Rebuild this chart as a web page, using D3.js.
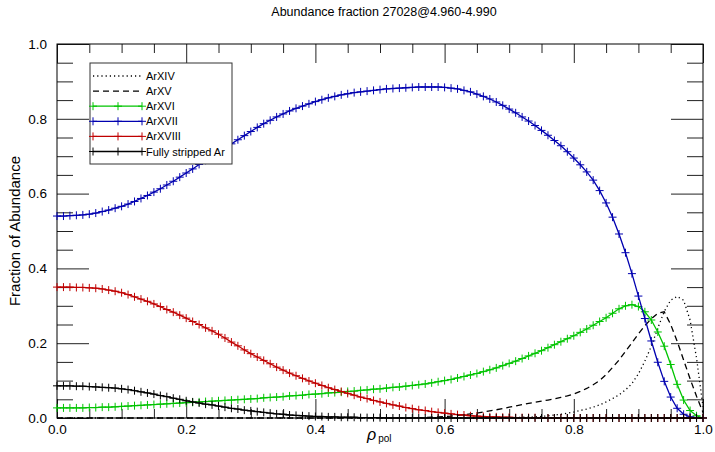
<!DOCTYPE html>
<html>
<head>
<meta charset="utf-8">
<script src="https://cdn.jsdelivr.net/npm/d3@7"></script>
<style>
  body { margin: 0; background: #fff; }
  svg { display: block; font-family: "Liberation Sans", Arial, Helvetica, sans-serif; }
</style>
</head>
<body>
<svg id="chart" width="715" height="452"></svg>
<script>
// rho_pol grid
const rho = [
  0.00, 0.01, 0.02, 0.03, 0.04, 0.05, 0.06, 0.07, 0.08, 0.09,
  0.10, 0.11, 0.12, 0.13, 0.14, 0.15, 0.16, 0.17, 0.18, 0.19,
  0.20, 0.21, 0.22, 0.23, 0.24, 0.25, 0.26, 0.27, 0.28, 0.29,
  0.30, 0.31, 0.32, 0.33, 0.34, 0.35, 0.36, 0.37, 0.38, 0.39,
  0.40, 0.41, 0.42, 0.43, 0.44, 0.45, 0.46, 0.47, 0.48, 0.49,
  0.50, 0.51, 0.52, 0.53, 0.54, 0.55, 0.56, 0.57, 0.58, 0.59,
  0.60, 0.61, 0.62, 0.63, 0.64, 0.65, 0.66, 0.67, 0.68, 0.69,
  0.70, 0.71, 0.72, 0.73, 0.74, 0.75, 0.76, 0.77, 0.78, 0.79,
  0.80, 0.81, 0.82, 0.83, 0.84, 0.85, 0.86, 0.87, 0.88, 0.89,
  0.90, 0.91, 0.92, 0.93, 0.94, 0.95, 0.96, 0.97, 0.98, 0.99,
  1.00,
];

const arXIV = [
  0, 0, 0, 0, 0, 0, 0, 0, 0, 0,
  0, 0, 0, 0, 0, 0, 0, 0, 0, 0,
  0, 0, 0, 0, 0, 0, 0, 0, 0, 0,
  0, 0, 0, 0, 0, 0, 0, 0, 0, 0,
  0, 0, 0, 0, 0, 0, 0, 0, 0, 0,
  0, 0, 0, 0, 0, 0, 0, 0, 0, 0,
  0, 0, 0, 0, 0, 0, 0, 0, 0, 0,
  0.001, 0.001, 0.002, 0.002, 0.003, 0.004, 0.006, 0.008, 0.010, 0.013,
  0.016, 0.020, 0.024, 0.029, 0.035, 0.043, 0.052, 0.062, 0.075, 0.092,
  0.118, 0.152, 0.192, 0.240, 0.285, 0.315, 0.325, 0.315, 0.262, 0.160,
  0.030,
];

const arXV = [
  0, 0, 0, 0, 0, 0, 0, 0, 0, 0,
  0, 0, 0, 0, 0, 0, 0, 0, 0, 0,
  0, 0, 0, 0, 0, 0, 0, 0, 0, 0,
  0, 0, 0, 0, 0, 0, 0, 0, 0, 0,
  0, 0, 0, 0, 0, 0, 0, 0, 0, 0,
  0, 0, 0, 0, 0, 0, 0.001, 0.001, 0.002, 0.003,
  0.004, 0.005, 0.007, 0.009, 0.011, 0.013, 0.016, 0.019, 0.022, 0.025,
  0.029, 0.032, 0.036, 0.039, 0.042, 0.045, 0.048, 0.051, 0.055, 0.059,
  0.064, 0.071, 0.079, 0.089, 0.100, 0.116, 0.135, 0.155, 0.178, 0.201,
  0.225, 0.247, 0.265, 0.280, 0.284, 0.250, 0.205, 0.155, 0.105, 0.058,
  0.015,
];

const arXVI = [
  0.027, 0.027, 0.027, 0.027, 0.027, 0.028, 0.028, 0.029, 0.029, 0.030,
  0.031, 0.032, 0.033, 0.034, 0.035, 0.036, 0.037, 0.038, 0.039, 0.040,
  0.041, 0.042, 0.043, 0.044, 0.045, 0.046, 0.047, 0.048, 0.049, 0.050,
  0.051, 0.052, 0.054, 0.055, 0.056, 0.057, 0.059, 0.060, 0.061, 0.063,
  0.064, 0.065, 0.067, 0.068, 0.069, 0.071, 0.072, 0.074, 0.075, 0.077,
  0.078, 0.080, 0.082, 0.083, 0.085, 0.087, 0.089, 0.091, 0.094, 0.097,
  0.100, 0.103, 0.107, 0.111, 0.115, 0.119, 0.124, 0.129, 0.134, 0.140,
  0.146, 0.152, 0.159, 0.166, 0.173, 0.180, 0.188, 0.196, 0.204, 0.212,
  0.220, 0.229, 0.238, 0.248, 0.258, 0.268, 0.280, 0.292, 0.300, 0.303,
  0.298, 0.284, 0.262, 0.230, 0.192, 0.143, 0.090, 0.048, 0.020, 0.006,
  0.000,
];

const arXVII = [
  0.540, 0.540, 0.541, 0.542, 0.543, 0.545, 0.548, 0.552, 0.556, 0.561,
  0.566, 0.572, 0.579, 0.587, 0.595, 0.604, 0.613, 0.623, 0.633, 0.644,
  0.655, 0.666, 0.678, 0.689, 0.700, 0.711, 0.722, 0.733, 0.744, 0.755,
  0.766, 0.777, 0.787, 0.796, 0.805, 0.813, 0.821, 0.828, 0.834, 0.840,
  0.846, 0.851, 0.856, 0.860, 0.864, 0.867, 0.870, 0.872, 0.874, 0.876,
  0.878, 0.880, 0.881, 0.882, 0.883, 0.884, 0.885, 0.885, 0.885, 0.885,
  0.884, 0.882, 0.880, 0.876, 0.872, 0.866, 0.860, 0.853, 0.845, 0.836,
  0.826, 0.816, 0.805, 0.794, 0.782, 0.769, 0.756, 0.742, 0.728, 0.712,
  0.695, 0.677, 0.658, 0.636, 0.608, 0.575, 0.537, 0.492, 0.442, 0.386,
  0.326, 0.266, 0.206, 0.149, 0.098, 0.056, 0.026, 0.010, 0.003, 0.001,
  0.000,
];

const arXVIII = [
  0.350, 0.350, 0.350, 0.349, 0.349, 0.348, 0.347, 0.345, 0.342, 0.339,
  0.335, 0.330, 0.324, 0.318, 0.312, 0.305, 0.298, 0.290, 0.283, 0.275,
  0.267, 0.258, 0.250, 0.241, 0.233, 0.224, 0.214, 0.203, 0.193, 0.182,
  0.172, 0.163, 0.154, 0.145, 0.136, 0.128, 0.120, 0.113, 0.106, 0.099,
  0.093, 0.087, 0.081, 0.076, 0.071, 0.066, 0.061, 0.056, 0.052, 0.047,
  0.043, 0.039, 0.035, 0.032, 0.028, 0.025, 0.022, 0.020, 0.017, 0.015,
  0.013, 0.011, 0.009, 0.008, 0.006, 0.005, 0.004, 0.003, 0.003, 0.002,
  0.002, 0.001, 0.001, 0.001, 0.001, 0, 0, 0, 0, 0,
  0, 0, 0, 0, 0, 0, 0, 0, 0, 0,
  0, 0, 0, 0, 0, 0, 0, 0, 0, 0,
  0,
];

const fullyStripped = [
  0.086, 0.086, 0.086, 0.085, 0.085, 0.084, 0.083, 0.082, 0.081, 0.080,
  0.078, 0.076, 0.073, 0.070, 0.067, 0.064, 0.060, 0.057, 0.053, 0.050,
  0.046, 0.043, 0.040, 0.037, 0.035, 0.032, 0.029, 0.026, 0.024, 0.021,
  0.019, 0.017, 0.015, 0.013, 0.011, 0.010, 0.008, 0.007, 0.006, 0.005,
  0.004, 0.004, 0.003, 0.003, 0.002, 0.002, 0.002, 0.001, 0.001, 0.001,
  0.001, 0, 0, 0, 0, 0, 0, 0, 0, 0,
  0, 0, 0, 0, 0, 0, 0, 0, 0, 0,
  0, 0, 0, 0, 0, 0, 0, 0, 0, 0,
  0, 0, 0, 0, 0, 0, 0, 0, 0, 0,
  0, 0, 0, 0, 0, 0, 0, 0, 0, 0,
  0,
];

// axis ticks
const xMajorTicks = [0, 0.2, 0.4, 0.6, 0.8, 1.0];
const yMajorTicks = [0, 0.2, 0.4, 0.6, 0.8, 1.0];
const minorTicks = [
  0.05, 0.1, 0.15, 0.25, 0.3, 0.35, 0.45, 0.5, 0.55,
  0.65, 0.7, 0.75, 0.85, 0.9, 0.95,
];

const series = [
  { name: "ArXIV", values: arXIV, color: "#000", dash: "1.2,3", marker: false },
  { name: "ArXV", values: arXV, color: "#000", dash: "6,4", marker: false },
  { name: "ArXVI", values: arXVI, color: "#00c400", dash: null, marker: true },
  { name: "ArXVII", values: arXVII, color: "#0000b0", dash: null, marker: true },
  { name: "ArXVIII", values: arXVIII, color: "#c00000", dash: null, marker: true },
  { name: "Fully stripped Ar", values: fullyStripped, color: "#000", dash: null, marker: true },
];

const svg = d3.select("#chart");

// plot frame
const plotLeft = 57, plotRight = 703, plotTop = 44, plotBottom = 418;

const x = d3.scaleLinear().domain([0, 1]).range([plotLeft, plotRight]);
const y = d3.scaleLinear().domain([0, 1]).range([plotBottom, plotTop]);

// title
svg.append("text")
  .attr("x", 384)
  .attr("y", 16)
  .attr("text-anchor", "middle")
  .attr("font-size", 12.5)
  .text("Abundance fraction 27028@4.960-4.990");

// axes (ticks point inwards like IDL)
const fmt = d3.format(".1f");
const tickColor = "#222";

const styleAxis = (g) => {
  g.select(".domain").remove();
  g.selectAll(".tick line").attr("stroke", tickColor);
  g.selectAll(".tick text").attr("fill", "#000");
};

svg.append("g")
  .attr("transform", `translate(0,${plotBottom})`)
  .call(d3.axisBottom(x).tickValues(xMajorTicks).tickSize(-19).tickPadding(6).tickFormat(fmt))
  .attr("font-size", 13.5)
  .attr("font-family", null)
  .call(styleAxis);
svg.append("g")
  .attr("transform", `translate(0,${plotBottom})`)
  .call(d3.axisBottom(x).tickValues(minorTicks).tickSize(-9).tickFormat(""))
  .call(styleAxis);
svg.append("g")
  .attr("transform", `translate(0,${plotTop})`)
  .call(d3.axisTop(x).tickValues(xMajorTicks).tickSize(-19).tickFormat(""))
  .call(styleAxis);
svg.append("g")
  .attr("transform", `translate(0,${plotTop})`)
  .call(d3.axisTop(x).tickValues(minorTicks).tickSize(-9).tickFormat(""))
  .call(styleAxis);

svg.append("g")
  .attr("transform", `translate(${plotLeft},0)`)
  .call(d3.axisLeft(y).tickValues(yMajorTicks).tickSize(-32).tickPadding(10).tickFormat(fmt))
  .attr("font-size", 13.5)
  .attr("font-family", null)
  .call(styleAxis);
svg.append("g")
  .attr("transform", `translate(${plotLeft},0)`)
  .call(d3.axisLeft(y).tickValues(minorTicks).tickSize(-16).tickFormat(""))
  .call(styleAxis);
svg.append("g")
  .attr("transform", `translate(${plotRight},0)`)
  .call(d3.axisRight(y).tickValues(yMajorTicks).tickSize(-32).tickFormat(""))
  .call(styleAxis);
svg.append("g")
  .attr("transform", `translate(${plotRight},0)`)
  .call(d3.axisRight(y).tickValues(minorTicks).tickSize(-16).tickFormat(""))
  .call(styleAxis);

svg.append("rect")
  .attr("x", plotLeft)
  .attr("y", plotTop)
  .attr("width", plotRight - plotLeft)
  .attr("height", plotBottom - plotTop)
  .attr("fill", "none")
  .attr("stroke", "#000");

// axis titles
svg.append("text")
  .attr("transform", `translate(20,${(plotTop + plotBottom) / 2}) rotate(-90)`)
  .attr("text-anchor", "middle")
  .attr("font-size", 15)
  .text("Fraction of Abundance");

const xTitle = svg.append("text")
  .attr("x", 367)
  .attr("y", 440);
xTitle.append("tspan")
  .attr("font-size", 16)
  .attr("font-style", "italic")
  .text("ρ");
xTitle.append("tspan")
  .attr("font-size", 10)
  .attr("dx", 2)
  .attr("dy", 2)
  .text("pol");

// curves
const line = d3.line()
  .x((d) => x(d[0]))
  .y((d) => y(d[1]));

const plusPath = (px, py, s) =>
  `M${px - s},${py}h${2 * s}M${px},${py - s}v${2 * s}`;

series.forEach((s) => {
  const pts = rho.map((r, i) => [r, s.values[i]]);
  svg.append("path")
    .datum(pts)
    .attr("fill", "none")
    .attr("stroke", s.color)
    .attr("stroke-width", 1.3)
    .attr("stroke-dasharray", s.dash)
    .attr("d", line);
  if (s.marker) {
    svg.append("path")
      .attr("fill", "none")
      .attr("stroke", s.color)
      .attr("stroke-width", 1)
      .attr("d", pts.map((d) => plusPath(x(d[0]), y(d[1]), 4)).join(""));
  }
});

// legend
const legend = svg.append("g").attr("transform", "translate(90,63)");
legend.append("rect")
  .attr("width", 142)
  .attr("height", 101)
  .attr("fill", "#fff")
  .attr("stroke", "#333");

const rows = legend.selectAll("g.row")
  .data(series)
  .enter()
  .append("g")
  .attr("class", "row")
  .attr("transform", (d, i) => `translate(0,${13 + i * 15.1})`);

rows.append("line")
  .attr("x1", 3)
  .attr("x2", 52)
  .attr("stroke", (d) => d.color)
  .attr("stroke-width", 1.3)
  .attr("stroke-dasharray", (d) => d.dash);

rows.filter((d) => d.marker)
  .append("path")
  .attr("fill", "none")
  .attr("stroke", (d) => d.color)
  .attr("d", [3, 28, 52].map((px) => plusPath(px, 0, 4)).join(""));

rows.append("text")
  .attr("x", 56)
  .attr("y", 4)
  .attr("font-size", 11)
  .text((d) => d.name);
</script>
</body>
</html>
